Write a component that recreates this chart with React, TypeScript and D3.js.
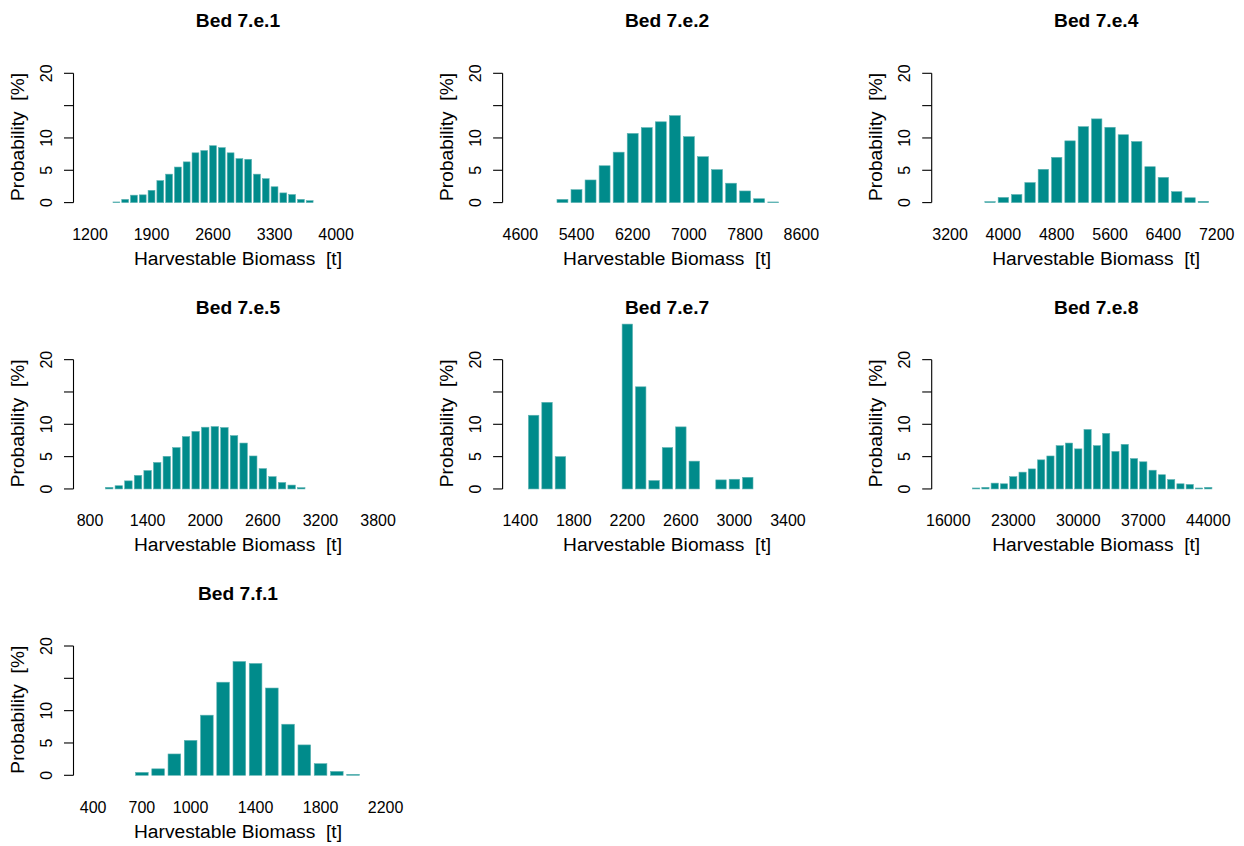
import * as d3 from 'd3';
import * as React from 'react';

// bed names, one per panel
const titles = ['Bed 7.e.1', 'Bed 7.e.2', 'Bed 7.e.4', 'Bed 7.e.5', 'Bed 7.e.7', 'Bed 7.e.8', 'Bed 7.f.1'];

// Bed 7.e.1
const biomass1 = [1500, 1600, 1700, 1800, 1900, 2000, 2100, 2200, 2300, 2400, 2500, 2600, 2700, 2800, 2900, 3000, 3100, 3200, 3300, 3400, 3500, 3600, 3700];
const prob1 = [0.1, 0.5, 1.15, 1.2, 1.9, 3.4, 4.4, 5.5, 6.3, 7.7, 8.05, 8.8, 8.5, 7.7, 6.8, 6.7, 4.4, 3.7, 2.45, 1.5, 1.25, 0.5, 0.3];
const ticks1 = [1200, 1900, 2600, 3300, 4000];
const domain1 = [1012, 4654];

// Bed 7.e.2
const biomass2 = [5200, 5400, 5600, 5800, 6000, 6200, 6400, 6600, 6800, 7000, 7200, 7400, 7600, 7800, 8000, 8200];
const prob2 = [0.5, 2.0, 3.5, 5.7, 7.8, 10.7, 11.6, 12.5, 13.45, 10.2, 7.1, 5.1, 3.0, 1.8, 0.6, 0.1];
const ticks2 = [4600, 5400, 6200, 7000, 7800, 8600];
const domain2 = [4348, 8903];

// Bed 7.e.4
const biomass3 = [3800, 4000, 4200, 4400, 4600, 4800, 5000, 5200, 5400, 5600, 5800, 6000, 6200, 6400, 6600, 6800, 7000];
const prob3 = [0.15, 0.8, 1.25, 3.1, 5.15, 7.0, 9.55, 11.75, 12.95, 11.65, 10.5, 9.45, 5.55, 3.9, 1.7, 0.75, 0.2];
const ticks3 = [3200, 4000, 4800, 5600, 6400, 7200];
const domain3 = [2925, 7725];

// Bed 7.e.5
const biomass4 = [1000, 1100, 1200, 1300, 1400, 1500, 1600, 1700, 1800, 1900, 2000, 2100, 2200, 2300, 2400, 2500, 2600, 2700, 2800, 2900, 3000];
const prob4 = [0.25, 0.5, 1.25, 2.1, 2.85, 4.1, 5.05, 6.4, 8.1, 8.9, 9.55, 9.65, 9.5, 8.25, 7.1, 5.1, 3.15, 1.9, 1.0, 0.6, 0.2];
const ticks4 = [800, 1400, 2000, 2600, 3200, 3800];
const domain4 = [628, 3961];

// Bed 7.e.7
const biomass5 = [1500, 1600, 1700, 2200, 2300, 2400, 2500, 2600, 2700, 2900, 3000, 3100];
const prob5 = [11.4, 13.4, 5.0, 25.5, 15.8, 1.3, 6.4, 9.6, 4.3, 1.4, 1.5, 1.8];
const ticks5 = [1400, 1800, 2200, 2600, 3000, 3400];
const domain5 = [1268, 3659];
const binStep5 = 100;

// Bed 7.e.8
const biomass6 = [19000, 20000, 21000, 22000, 23000, 24000, 25000, 26000, 27000, 28000, 29000, 30000, 31000, 32000, 33000, 34000, 35000, 36000, 37000, 38000, 39000, 40000, 41000, 42000, 43000, 44000];
const prob6 = [0.15, 0.25, 0.9, 0.8, 1.9, 2.6, 3.1, 4.5, 5.1, 6.7, 7.1, 6.2, 9.2, 6.7, 8.6, 5.8, 6.9, 4.7, 4.2, 2.9, 2.2, 1.45, 0.8, 0.7, 0.15, 0.25];
const ticks6 = [16000, 23000, 30000, 37000, 44000];
const domain6 = [14212, 48673];

// Bed 7.f.1
const biomass7 = [700, 800, 900, 1000, 1100, 1200, 1300, 1400, 1500, 1600, 1700, 1800, 1900, 2000];
const prob7 = [0.45, 1.0, 3.3, 5.4, 9.3, 14.4, 17.6, 17.3, 13.5, 7.9, 4.7, 1.8, 0.6, 0.15];
const ticks7 = [400, 700, 1000, 1400, 1800, 2200];
const domain7 = [279, 2249];

const yTicks = [0, 5, 10, 15, 20];
const yTickLabels = ['0', '5', '10', '', '20'];

const panels = [
  { title: titles[0], bins: biomass1, probs: prob1, ticks: ticks1, domain: domain1 },
  { title: titles[1], bins: biomass2, probs: prob2, ticks: ticks2, domain: domain2 },
  { title: titles[2], bins: biomass3, probs: prob3, ticks: ticks3, domain: domain3 },
  { title: titles[3], bins: biomass4, probs: prob4, ticks: ticks4, domain: domain4 },
  { title: titles[4], bins: biomass5, probs: prob5, ticks: ticks5, domain: domain5, step: binStep5 },
  { title: titles[5], bins: biomass6, probs: prob6, ticks: ticks6, domain: domain6 },
  { title: titles[6], bins: biomass7, probs: prob7, ticks: ticks7, domain: domain7 },
];

const FONT = '"Liberation Sans", Arial, Helvetica, sans-serif';
const BAR = '#008b8b';

const Panel = ({ p, col, row }) => {
  const x0 = 73.5 + col * 429.1; // left edge of plot region (y axis)
  const yTop = 73.3 + row * 286.35; // value 20
  const x = d3.scaleLinear().domain(p.domain).range([x0, x0 + 320]);
  const y = d3.scaleLinear().domain([0, 20]).range([yTop + 129.3, yTop]);
  const step = p.step || p.bins[1] - p.bins[0];
  const bw = (x(p.bins[0] + step) - x(p.bins[0])) * 0.78;
  const cx = x0 + 164.5;

  return (
    <g>
      <text x={cx} y={yTop - 46} textAnchor="middle" fontWeight="bold" fontSize={19.2}>
        {p.title}
      </text>

      {p.bins.map((b, i) => (
        <rect
          key={b}
          x={x(b) - bw / 2}
          y={y(p.probs[i])}
          width={bw}
          height={y(0) - y(p.probs[i])}
          fill={BAR}
          stroke="#5fb3b3"
          strokeWidth={0.6}
        />
      ))}

      <line x1={x0} x2={x0} y1={y(0)} y2={y(20)} stroke="#000" strokeWidth={1.1} />
      {yTicks.map((t, i) => (
        <g key={t}>
          <line x1={x0 - 9.5} x2={x0} y1={y(t)} y2={y(t)} stroke="#000" strokeWidth={1.1} />
          <text transform={`translate(${x0 - 21.5},${y(t)}) rotate(-90)`} textAnchor="middle" fontSize={16}>
            {yTickLabels[i]}
          </text>
        </g>
      ))}
      <text
        transform={`translate(${x0 - 49.5},${y(10) - 1}) rotate(-90)`}
        textAnchor="middle"
        fontSize={19.2}
        style={{ whiteSpace: 'pre' }}
      >
        {'Probability  [%]'}
      </text>

      {p.ticks.map((t) => (
        <text key={t} x={x(t)} y={y(0) + 37.5} textAnchor="middle" fontSize={16}>
          {t}
        </text>
      ))}
      <text x={cx} y={y(0) + 62.5} textAnchor="middle" fontSize={19.2} style={{ whiteSpace: 'pre' }}>
        {'Harvestable Biomass  [t]'}
      </text>
    </g>
  );
};

const App = () => {
  return (
    <svg
      width={1244}
      height={846}
      style={{ position: 'absolute', left: 0, top: 0, background: '#fff' }}
      fontFamily={FONT}
      fill="#000"
    >
      <rect width={1244} height={846} fill="#fff" />
      {panels.map((p, i) => (
        <Panel key={p.title} p={p} col={i % 3} row={Math.floor(i / 3)} />
      ))}
    </svg>
  );
};

export default App;
